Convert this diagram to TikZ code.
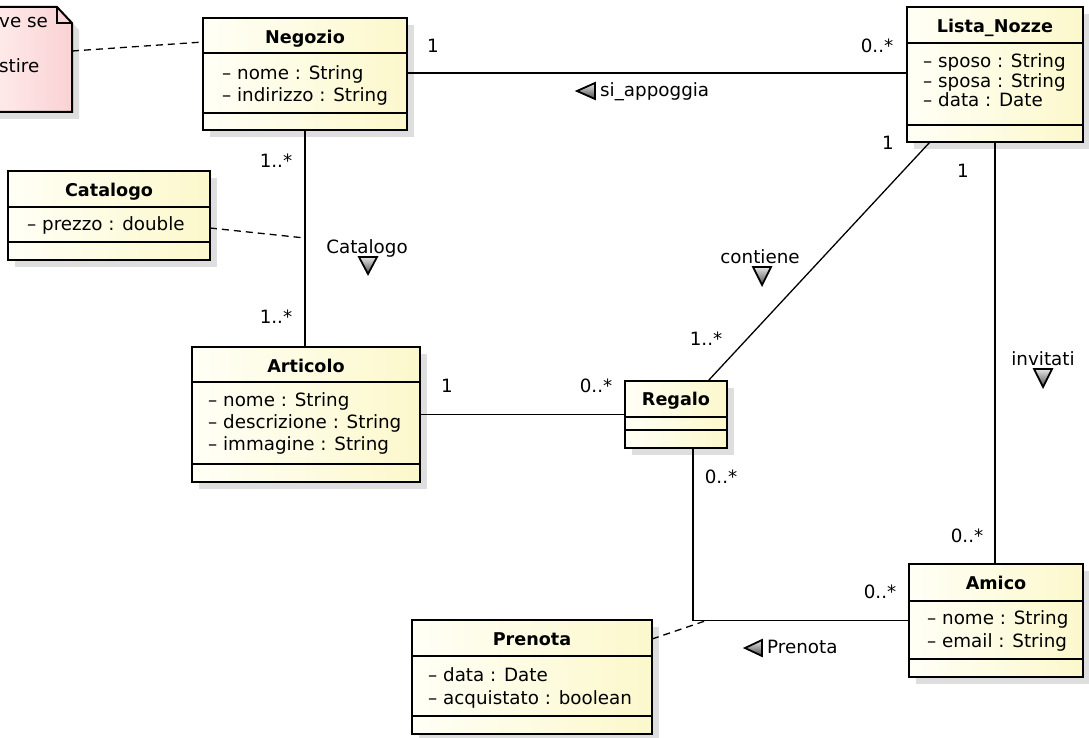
\documentclass[tikz,border=0pt]{standalone}
\usepackage{fontspec}
\setmainfont{DejaVu Sans}
\usetikzlibrary{calc}
\definecolor{shadowc}{RGB}{222,222,222}
\definecolor{clsA}{RGB}{255,255,246}
\definecolor{clsB}{RGB}{252,248,204}
\definecolor{noteA}{RGB}{255,236,236}
\definecolor{noteB}{RGB}{250,210,212}
\definecolor{ink}{RGB}{0,0,0}
\newcommand\txtsize{\fontsize{18.3}{22}\selectfont}
\newcommand\ttlsize{\fontsize{17.6}{21}\selectfont}
\newcommand\umlclass[7]{%
  \fill[shadowc] (#2+7,#3+7) rectangle (#4+7,#5+7);
  \node[classbox, minimum width={(#4-#2)*1pt}, minimum height={(#5-#3)*1pt}] (#1) at (#2,#3) {};
  \draw[sepline] (#2,#6) -- (#4,#6) (#2,#7) -- (#4,#7);
}
\begin{document}
\begin{tikzpicture}[x=1pt,y=-1pt,
  classbox/.style={draw=black, line width=2.6pt, inner sep=0pt, outer sep=0pt, left color=clsA, right color=clsB, anchor=north west},
  sepline/.style={draw=black, line width=1.2pt},
  conn/.style={draw=ink, line width=1.3pt},
  dashconn/.style={draw=ink, line width=1.3pt, dash pattern=on 7pt off 5pt},
  title/.style={font=\ttlsize\bfseries, text=ink, inner sep=0pt, anchor=mid, yshift=-3pt},
  attr/.style={font=\txtsize, text=ink, inner sep=0pt, anchor=mid west, yshift=-2pt},
  lbl/.style={font=\txtsize, text=ink, inner sep=0pt, anchor=mid, yshift=-3pt},
  dirtri/.style={draw=black, line width=1.8pt, line join=miter, top color=gray!20, bottom color=gray!60!black},
]
\useasboundingbox[fill=white] (0,0) rectangle (1089,738);

% note
\fill[shadowc] (-10,14) -- (64,14) -- (79,30) -- (79,119) -- (-10,119) -- cycle;
\path[left color=noteA, right color=noteB] (-10,7) -- (57,7) -- (72,23) -- (72,112) -- (-10,112) -- cycle;
\draw[line width=2pt, line join=miter] (-10,7) -- (57,7) -- (72,23) -- (72,112) -- (-10,112);
\draw[line width=1.2pt] (57,7) -- (57,23) -- (72,23);
\node[attr] (noteT1) at (-1,23) {ve se};
\node[attr] (noteT2) at (-1,68) {stire};
\coordinate (noteE) at (72,51);

% classes
\umlclass{neg}{203}{18}{407}{130}{53}{113}
\node[title] (negT) at (305,38) {Negozio};
\node[attr] (negA1) at (222,75) {– nome : String};
\node[attr] (negA2) at (222,97) {– indirizzo : String};

\umlclass{lista}{907}{7}{1083}{142}{43}{125}
\node[title] (listaT) at (995,27) {Lista\_Nozze};
\node[attr] (listaA1) at (923,63) {– sposo : String};
\node[attr] (listaA2) at (923,83) {– sposa : String};
\node[attr] (listaA3) at (923,102) {– data : Date};

\umlclass{cat}{8}{171}{210}{260}{207}{242}
\node[title] (catT) at (109,191) {Catalogo};
\node[attr] (catA1) at (27,226) {– prezzo : double};

\umlclass{art}{192}{347}{420}{482}{382}{464}
\node[title] (artT) at (306,367) {Articolo};
\node[attr] (artA1) at (208,402) {– nome : String};
\node[attr] (artA2) at (208,424) {– descrizione : String};
\node[attr] (artA3) at (208,446) {– immagine : String};

\umlclass{reg}{625}{381}{727}{448}{417}{430}
\node[title] (regT) at (676,400) {Regalo};

\umlclass{ami}{909}{564}{1083}{677}{601}{659}
\node[title] (amiT) at (996,584) {Amico};
\node[attr] (amiA1) at (927,620) {– nome : String};
\node[attr] (amiA2) at (927,643) {– email : String};

\umlclass{pren}{412}{620}{652}{734}{656}{716}
\node[title] (prenT) at (532,640) {Prenota};
\node[attr] (prenA1) at (428,677) {– data : Date};
\node[attr] (prenA2) at (428,700) {– acquistato : boolean};

% connectors
\draw[dashconn] (noteE) -- (neg.west |- 0,42);
\draw[conn] (neg.east |- 0,73) -- (lista.west |- 0,73);
\draw[conn] (neg.south) -- (neg.south |- art.north);
\coordinate (catlink) at (305,238);
\draw[dashconn] (cat.east |- 0,228) -- (catlink);
\draw[conn] (art.east) -- (reg.west);
\draw[conn] ([xshift=32pt]reg.north) -- ([xshift=-65pt]lista.south);
\draw[conn] (lista.south) -- (lista.south |- ami.north);
\draw[conn] ([xshift=17pt]reg.south) |- (ami.west);
\coordinate (prenlink) at (705,621);
\draw[dashconn] (pren.east |- 0,639) -- (prenlink);

% association names
\node[lbl, anchor=mid west] (lblSi) at (600,91) {si\_appoggia};
\filldraw[dirtri] (577,91) -- (595,83) -- (595,99) -- cycle;
\node[lbl] (lblCat) at (367,248) {Catalogo};
\filldraw[dirtri] (359,257) -- (377,257) -- (368,274) -- cycle;
\node[lbl] (lblCont) at (760,258) {contiene};
\filldraw[dirtri] (753,267) -- (771,267) -- (762,285) -- cycle;
\node[lbl] (lblInv) at (1043,360) {invitati};
\filldraw[dirtri] (1034,369) -- (1052,369) -- (1043,387) -- cycle;
\node[lbl, anchor=mid west] (lblPren) at (767,648) {Prenota};
\filldraw[dirtri] (745,648) -- (762,640) -- (762,656) -- cycle;

% multiplicities
\node[lbl] (m1) at (433,47) {1};
\node[lbl] (m2) at (877,47) {0..*};
\node[lbl] (m3) at (276,162) {1..*};
\node[lbl] (m4) at (276,318) {1..*};
\node[lbl] (m5) at (447,387) {1};
\node[lbl] (m6) at (596,387) {0..*};
\node[lbl] (m7) at (888,144) {1};
\node[lbl] (m8) at (963,172) {1};
\node[lbl] (m9) at (706,340) {1..*};
\node[lbl] (m10) at (721,478) {0..*};
\node[lbl] (m11) at (967,537) {0..*};
\node[lbl] (m12) at (880,593) {0..*};
\end{tikzpicture}
\end{document}
